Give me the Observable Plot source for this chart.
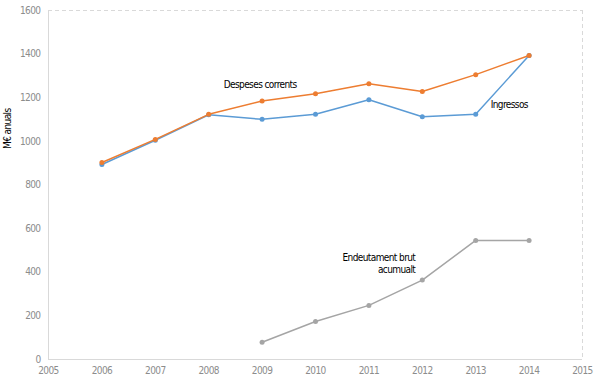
<!DOCTYPE html>
<html>
<head>
<meta charset="utf-8">
<script src="https://cdn.jsdelivr.net/npm/d3@7"></script>
<script src="https://cdn.jsdelivr.net/npm/@observablehq/plot@0.6"></script>
<style>
  html, body { margin: 0; padding: 0; background: #fff; }
  svg { font-family: "DejaVu Sans Condensed", "DejaVu Sans", sans-serif; }
</style>
</head>
<body>
<div id="chart"></div>
<script>
const years = [2006, 2007, 2008, 2009, 2010, 2011, 2012, 2013, 2014];
const despeses = [903, 1009, 1124, 1185, 1218, 1264, 1229, 1306, 1394];
const ingressos = [894, 1005, 1122, 1101, 1124, 1191, 1113, 1124, 1394];
const endeutYears = [2009, 2010, 2011, 2012, 2013, 2014];
const endeutament = [79, 174, 248, 364, 546, 546];
const xTicks = [2005, 2006, 2007, 2008, 2009, 2010, 2011, 2012, 2013, 2014, 2015];
const yTicks = [0, 200, 400, 600, 800, 1000, 1200, 1400, 1600];
const seriesNames = ["Despeses corrents", "Ingressos", "Endeutament brut\nacumualt"];
const yLabel = "M€ anuals";

const colors = { desp: "#ED7D31", ingr: "#5B9BD5", end: "#A5A5A5" };

const desp = years.map((x, i) => ({ x, y: despeses[i] }));
const ingr = years.map((x, i) => ({ x, y: ingressos[i] }));
const end = endeutYears.map((x, i) => ({ x, y: endeutament[i] }));

const txt = { fontSize: 10, fill: "#000" };

const chart = Plot.plot({
  width: 600,
  height: 383,
  marginLeft: 48,
  marginRight: 18,
  marginTop: 10,
  marginBottom: 24,
  style: { fontSize: "10px", letterSpacing: "-0.6px", background: "#fff" },
  x: { domain: [2005, 2015] },
  y: { domain: [0, 1600] },
  marks: [
    Plot.ruleX([xTicks[xTicks.length - 1]], { stroke: "#d9d9d9", strokeDasharray: "4,3" }),
    Plot.ruleY([yTicks[yTicks.length - 1]], { stroke: "#d9d9d9", strokeDasharray: "4,3" }),
    Plot.ruleX([xTicks[0]], { stroke: "#d9d9d9" }),
    Plot.ruleY([yTicks[0]], { stroke: "#d9d9d9" }),
    Plot.axisX({ ticks: xTicks, tickFormat: d => String(d), tickSize: 0, tickPadding: 7, fill: "#8c8c8c", label: null }),
    Plot.axisY({ ticks: yTicks, tickFormat: d => String(d), tickSize: 0, tickPadding: 8, fill: "#8c8c8c", label: null }),
    Plot.line(end, { x: "x", y: "y", stroke: colors.end, strokeWidth: 1.5 }),
    Plot.dot(end, { x: "x", y: "y", fill: colors.end, r: 2.5 }),
    Plot.line(ingr, { x: "x", y: "y", stroke: colors.ingr, strokeWidth: 1.5 }),
    Plot.dot(ingr, { x: "x", y: "y", fill: colors.ingr, r: 2.5 }),
    Plot.line(desp, { x: "x", y: "y", stroke: colors.desp, strokeWidth: 1.5 }),
    Plot.dot(desp, { x: "x", y: "y", fill: colors.desp, r: 2.5 }),
    Plot.text([desp[2]], { x: "x", y: "y", text: () => seriesNames[0], textAnchor: "start", dx: 15, dy: -30, ...txt }),
    Plot.text([ingr[7]], { x: "x", y: "y", text: () => seriesNames[1], textAnchor: "start", dx: 15, dy: -10, ...txt }),
    Plot.text([end[3]], { x: "x", y: "y", text: () => seriesNames[2], textAnchor: "end", dx: -7, dy: -17, lineHeight: 1.2, ...txt }),
    Plot.text([yLabel], { frameAnchor: "left", text: d => d, rotate: -90, dx: -41, dy: -36, ...txt })
  ]
});
document.getElementById("chart").appendChild(chart);
</script>
</body>
</html>
